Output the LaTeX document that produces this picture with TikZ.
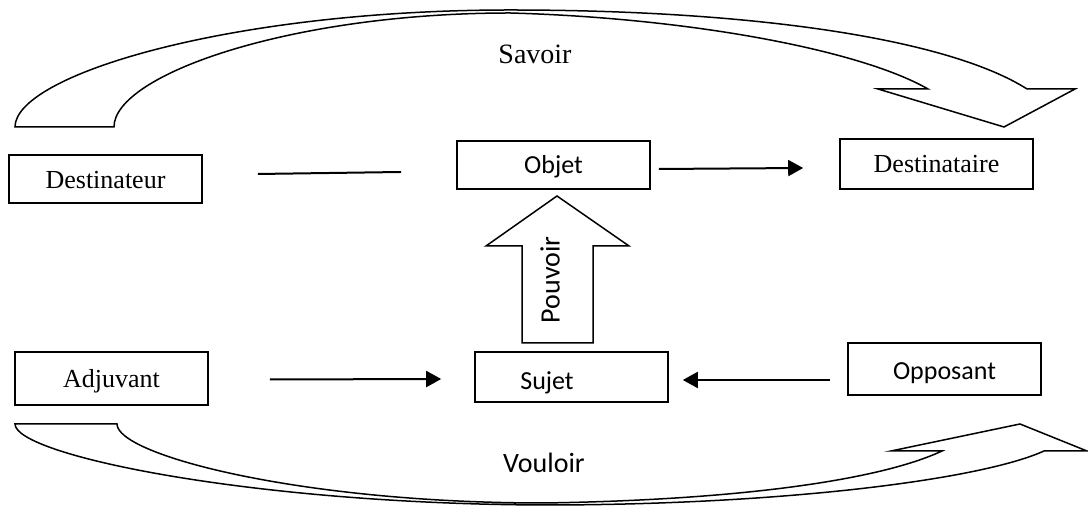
\documentclass[tikz,border=0pt]{standalone}
\usepackage{fontspec}
\setmainfont{Liberation Serif}
\newfontfamily\calibri{Carlito}
\usetikzlibrary{arrows.meta}
\begin{document}
\begin{tikzpicture}[x=0.5pt,y=-0.5pt,
  box/.style={draw,line width=0.8pt,minimum width=96.5pt,inner sep=0pt,text height=9.8pt,text depth=1pt,font=\fontsize{13}{15}\selectfont},
  sbox/.style={box,text height=9.6pt,text depth=1pt,font=\calibri\fontsize{13}{15}\selectfont},
  arr/.style={line width=1pt,-{Triangle[length=7.5pt,width=8pt]}},
  plain/.style={line width=1pt},
  band/.style={draw,line width=0.75pt,line join=miter},
  lbl/.style={font=\fontsize{14}{16}\selectfont},
  slbl/.style={font=\calibri\fontsize{14}{16}\selectfont}]
\useasboundingbox (0,0) rectangle (1088,506);

% boxes
\node[box,minimum height=24pt,text height=10.6pt] (destinateur) at (105.5,179) {Destinateur};
\node[sbox,minimum height=24pt] (objet) at (553.5,165) {Objet};
\node[box,minimum height=25pt] (destinataire) at (936.5,164) {Destinataire};
\node[box,minimum height=26.5pt] (adjuvant) at (111.5,378.5) {Adjuvant};
\node[sbox,minimum height=25pt,label={[font=\calibri\fontsize{13}{15}\selectfont,text height=9.6pt,text depth=1pt,xshift=-12.25pt,yshift=-1.8pt]center:Sujet}] (sujet) at (571.5,377) {};
\node[sbox,minimum height=26pt,text height=11.2pt] (opposant) at (944.5,369) {Opposant};

% curved band arrow on top (Savoir)
\draw[band] (15,127) .. controls (15,75) and (230,10) .. (510,10)
  .. controls (760,10) and (950,40) .. (1027,89)
  -- (1075,89) -- (1004,127) -- (878,89) -- (928,89)
  .. controls (860,50) and (690,18) .. (510,13)
  .. controls (290,13) and (114,75) .. (114,127) -- cycle;
\node[lbl] (savoir) at (535,54) {Savoir};

% curved band arrow at bottom (Vouloir)
\draw[band] (15,424) .. controls (15,455) and (250,504) .. (544,505)
  .. controls (780,505) and (980,480) .. (1044,451)
  -- (1087,451) -- (1020,424) -- (891,451) -- (942,451)
  .. controls (880,480) and (740,500) .. (544,503)
  .. controls (300,503) and (117,455) .. (117,424) -- cycle;
\node[slbl] (vouloir) at (544,463) {Vouloir};

% block arrow Pouvoir
\draw[band] (522,343) -- (522,246) -- (486,246) -- (557,196) -- (629,246) -- (593,246) -- (593,343) -- cycle;
\node[slbl,rotate=90] (pouvoir) at (550,280) {Pouvoir};

% connectors
\draw[plain] ([xshift=27.5pt,yshift=2.5pt]destinateur.east) -- ([xshift=-27.5pt,yshift=-3.5pt]objet.west);
\draw[arr] ([xshift=4pt,yshift=-2pt]objet.east) -- ([xshift=-18pt,yshift=-2pt]destinataire.west);
\draw[arr] ([xshift=30.5pt,yshift=-0.5pt]adjuvant.east) -- ([xshift=-16.5pt,yshift=-1pt]sujet.west);
\draw[arr] ([xshift=-8.5pt,yshift=-5.5pt]opposant.west) -- ([xshift=7pt,yshift=-1.5pt]sujet.east);
\end{tikzpicture}
\end{document}
